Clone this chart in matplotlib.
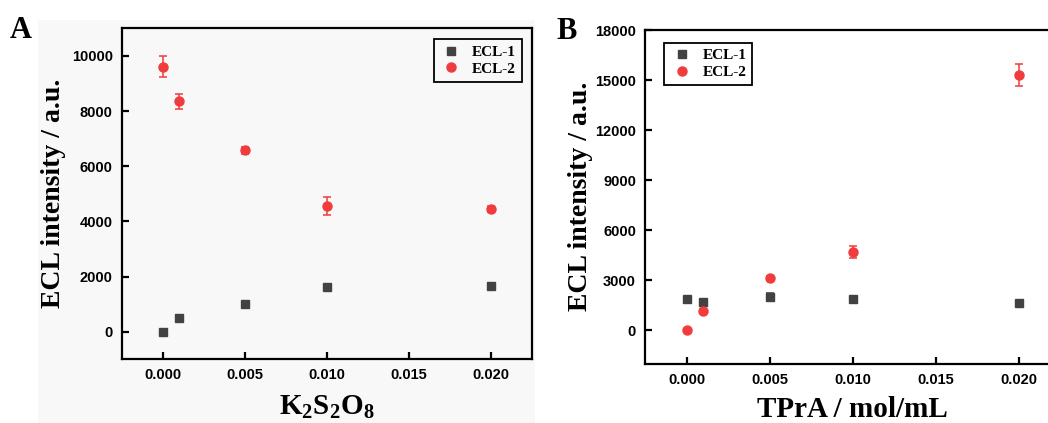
import matplotlib
matplotlib.use('Agg')
import matplotlib.pyplot as plt
from matplotlib.patches import Rectangle

plt.rcParams['mathtext.default'] = 'regular'

# K2S2O8 series (panel A)
conc_a = [0.0, 0.001, 0.005, 0.010, 0.020]
ecl1_a = [0, 500, 1000, 1610, 1660]
ecl1_a_err = [40, 40, 50, 60, 60]
ecl2_a = [9610, 8350, 6570, 4570, 4460]
ecl2_a_err = [370, 270, 110, 330, 110]

# TPrA series (panel B)
conc_b = [0.0, 0.001, 0.005, 0.010, 0.020]
ecl1_b = [1850, 1700, 1990, 1870, 1640]
ecl1_b_err = [80, 80, 230, 90, 110]
ecl2_b = [0, 1160, 3110, 4710, 15310]
ecl2_b_err = [60, 80, 120, 360, 640]

x_ticks = [0.000, 0.005, 0.010, 0.015, 0.020]
y_ticks_a = [0, 2000, 4000, 6000, 8000, 10000]
y_ticks_b = [0, 3000, 6000, 9000, 12000, 15000, 18000]

gray = '#424242'
red = '#f03c3c'
back = '#f8f8f8'
serif = 'Liberation Serif'
sans = 'Liberation Sans'

W, H = 1048, 423
fig = plt.figure(figsize=(W / 100, H / 100), dpi=100)

# faint grey backdrop behind panel A
fig.patches.append(Rectangle((38 / W, 0), (535 - 38) / W, (H - 20) / H,
                             transform=fig.transFigure, facecolor=back,
                             edgecolor='none', zorder=-10))

ax1 = fig.add_axes([121.7 / W, (H - 359.3) / H, (532 - 121.7) / W, (359.3 - 28.3) / H])
ax2 = fig.add_axes([645 / W, (H - 363.5) / H, 415.5 / W, (363.5 - 30) / H])
ax1.set_facecolor('none')


def draw(ax, x, y1, e1, y2, e2):
    ax.errorbar(x, y1, yerr=e1, fmt='none', ecolor=gray, capsize=3,
                elinewidth=1.1, capthick=1.1, zorder=3)
    ax.errorbar(x, y2, yerr=e2, fmt='none', ecolor=red, capsize=3,
                elinewidth=1.1, capthick=1.1, zorder=3)
    ax.plot(x, y1, 's', color=gray, ms=5.5, label='ECL-1', zorder=4)
    ax.plot(x, y2, 'o', color=red, ms=6.5, label='ECL-2', zorder=4)
    for s in ax.spines.values():
        s.set_linewidth(1.6)
    ax.tick_params(direction='in', length=5, width=1.6, pad=6.5)
    ax.set_xlim(-0.0025, 0.0225)
    ax.set_xticks(x_ticks)
    ax.set_xticklabels(['%.3f' % t for t in x_ticks])
    ax.set_ylabel('ECL intensity / a.u.', fontfamily=serif, fontweight='bold', fontsize=20)


def style_ticks(ax):
    for lab in ax.get_xticklabels() + ax.get_yticklabels():
        lab.set_fontfamily(sans)
        lab.set_fontweight('bold')
        lab.set_fontsize(10.5)


draw(ax1, conc_a, ecl1_a, ecl1_a_err, ecl2_a, ecl2_a_err)
ax1.set_ylim(-1000, 11000)
ax1.set_yticks(y_ticks_a)
style_ticks(ax1)
ax1.set_xlabel('K$_2$S$_2$O$_8$', fontfamily=serif, fontweight='bold', fontsize=21, labelpad=8)
ax1.yaxis.set_label_coords(-0.135, 0.5)

draw(ax2, conc_b, ecl1_b, ecl1_b_err, ecl2_b, ecl2_b_err)
ax2.set_ylim(-2000, 18000)
ax2.set_yticks(y_ticks_b)
style_ticks(ax2)
ax2.set_xlabel('TPrA / mol/mL', fontfamily=serif, fontweight='bold', fontsize=21, labelpad=7)
ax2.yaxis.set_label_coords(-0.125, 0.5)

leg_kw = dict(frameon=True, fancybox=False, edgecolor='black', framealpha=1,
              handlelength=1.5, handletextpad=0.6, borderpad=0.4, labelspacing=0.2,
              prop={'family': serif, 'weight': 'bold', 'size': 11})
leg1 = ax1.legend(loc='upper right', bbox_to_anchor=(0.976, 0.967), borderaxespad=0, **leg_kw)
leg2 = ax2.legend(loc='upper left', bbox_to_anchor=(0.046, 0.962), borderaxespad=0, **leg_kw)
leg1.get_frame().set_facecolor(back)
leg2.get_frame().set_facecolor('white')
for leg in (leg1, leg2):
    leg.get_frame().set_linewidth(1.3)

fig.text(10 / W, 1 - 38 / H, 'A', fontfamily=serif, fontweight='bold', fontsize=22)
fig.text(556 / W, 1 - 39 / H, 'B', fontfamily=serif, fontweight='bold', fontsize=22)

fig.savefig('out.png', dpi=100)
